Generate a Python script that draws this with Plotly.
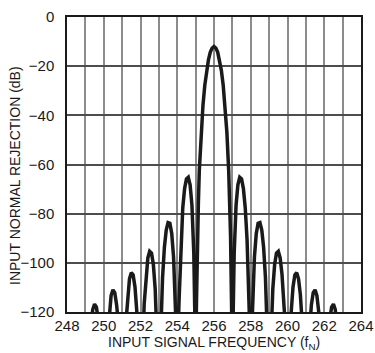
import plotly.graph_objects as go

left_freq = [249.0, 249.2, 249.3, 249.4, 249.5, 249.6, 249.7, 249.8, 250.0,
             250.1, 250.2, 250.3, 250.4, 250.5, 250.6, 250.7, 250.8, 250.9, 251.0,
             251.2, 251.3, 251.4, 251.5, 251.6, 251.7, 251.8, 252.0,
             252.1, 252.2, 252.3, 252.4, 252.5, 252.6, 252.7, 252.8, 252.9, 253.0,
             253.1, 253.2, 253.3, 253.4, 253.5, 253.6, 253.7, 253.8, 253.9, 254.0,
             254.1, 254.2, 254.3, 254.4, 254.5, 254.6, 254.7, 254.8, 254.9, 254.95, 255.0]
left_rej = [-140, -138, -125.3, -119.0, -116.8, -118.0, -123.1, -135, -140,
            -140, -131.3, -119.6, -113.3, -111.0, -112.1, -117.1, -127.5, -140, -140,
            -124.8, -112.9, -106.5, -104.0, -104.9, -109.8, -120.1, -140,
            -139.9, -116.7, -104.6, -98.0, -95.3, -96.0, -100.7, -110.7, -131.9, -140,
            -129.6, -106.0, -93.7, -86.7, -83.6, -83.9, -88.1, -97.7, -118.4, -140,
            -114.9, -90.7, -77.6, -69.8, -65.9, -65.2, -68.3, -76.6, -95.9, -118, -140]

main_freq = [255.05, 255.1, 255.15, 255.2, 255.3, 255.4, 255.5, 255.6, 255.7, 255.8, 255.9,
             256.0,
             256.1, 256.2, 256.3, 256.4, 256.5, 256.6, 256.7, 256.8, 256.85, 256.9, 256.95]
main_rej = [-114.6, -88.9, -75.6, -62.5, -46.7, -35.8, -27.7, -21.7, -17.3, -14.3, -12.6,
            -12.0,
            -12.6, -14.3, -17.3, -21.7, -27.7, -35.8, -46.7, -62.5, -75.6, -88.9, -114.6]

right_freq = [257.0, 257.05, 257.1, 257.2, 257.3, 257.4, 257.5, 257.6, 257.7, 257.8, 257.9,
              258.0, 258.1, 258.2, 258.3, 258.4, 258.5, 258.6, 258.7, 258.8, 258.9,
              259.0, 259.1, 259.2, 259.3, 259.4, 259.5, 259.6, 259.7, 259.8, 259.9,
              260.0, 260.2, 260.3, 260.4, 260.5, 260.6, 260.7, 260.8,
              261.0, 261.1, 261.2, 261.3, 261.4, 261.5, 261.6, 261.7, 261.8, 261.9,
              262.0, 262.2, 262.3, 262.4, 262.5, 262.6, 262.7, 262.8, 263.0]
right_rej = [-140, -118, -95.9, -76.6, -68.3, -65.2, -65.9, -69.8, -77.6, -90.7, -114.9,
             -140, -118.4, -97.7, -88.1, -83.9, -83.6, -86.7, -93.7, -106.0, -129.6,
             -140, -131.9, -110.7, -100.7, -96.0, -95.3, -98.0, -104.6, -116.7, -139.9,
             -140, -120.1, -109.8, -104.9, -104.0, -106.5, -112.9, -124.8,
             -140, -140, -127.5, -117.1, -112.1, -111.0, -113.3, -119.6, -131.3, -140,
             -140, -135, -123.1, -118.0, -116.8, -119.0, -125.3, -138, -140]

freq = left_freq + main_freq + right_freq
rejection = left_rej + main_rej + right_rej

FONT = "Liberation Sans Narrow, Arial Narrow, Helvetica, sans-serif"

fig = go.Figure()
fig.add_trace(go.Scatter(x=freq, y=rejection, mode="lines",
                         line=dict(color="#1a1a1a", width=3.5),
                         hoverinfo="skip", showlegend=False))

fig.update_layout(
    width=375, height=353,
    margin=dict(l=67, r=14, t=17, b=41),
    paper_bgcolor="white", plot_bgcolor="white",
    font=dict(family=FONT, color="#1a1a1a", size=15),
)
fig.update_xaxes(
    range=[248, 264], dtick=2, tick0=248,
    showgrid=True, gridcolor="#8c8c8c", gridwidth=1.5,
    minor=dict(dtick=1, showgrid=True, gridcolor="#8c8c8c", gridwidth=1.5),
    showline=True, linecolor="#1a1a1a", linewidth=1.5, mirror=True,
    ticks="", ticklabelstandoff=-1, zeroline=False, automargin=False,
)
fig.update_yaxes(
    range=[-120, 0], dtick=20,
    showgrid=True, gridcolor="#4d4d4d", gridwidth=1.5,
    showline=True, linecolor="#1a1a1a", linewidth=1.5, mirror=True,
    ticks="", ticklabelstandoff=8, zeroline=False, automargin=False,
)

# axis titles
fig.add_annotation(text="INPUT SIGNAL FREQUENCY (f<sub>N</sub>)",
                   xref="paper", yref="paper", x=0.5, y=0, yshift=-31,
                   xanchor="center", yanchor="middle", showarrow=False,
                   font=dict(size=14))
fig.add_annotation(text="INPUT NORMAL REJECTION (dB)",
                   xref="paper", yref="paper", x=0, y=0.461, xshift=-52,
                   xanchor="center", yanchor="middle", textangle=-90,
                   showarrow=False, font=dict(size=14))

# drop the default page margin so the figure sits at the window's top-left
fig.write_html("out.html", config={"displayModeBar": False},
               post_script="document.body.style.margin='0';")
